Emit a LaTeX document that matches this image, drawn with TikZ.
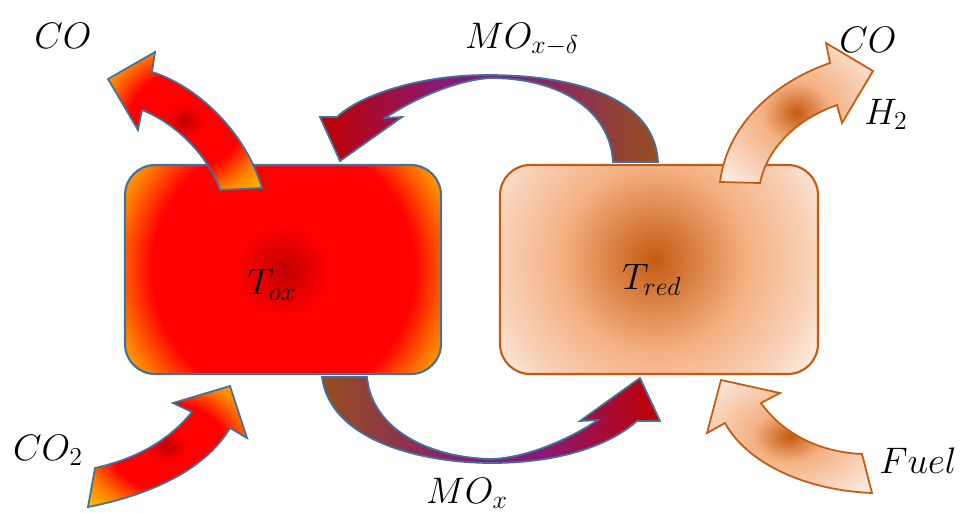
\documentclass[tikz,border=0pt]{standalone}
\usepackage{fix-cm}
\usepackage{tikz}
\usetikzlibrary{calc}
\definecolor{rd}{RGB}{192,0,0}
\definecolor{re}{RGB}{255,0,0}
\definecolor{og}{RGB}{255,128,0}
\definecolor{ye}{RGB}{255,192,0}
\definecolor{br}{RGB}{149,79,31}
\definecolor{pu}{RGB}{136,26,118}
\definecolor{bo}{RGB}{65,113,156}
\definecolor{ko}{RGB}{197,90,17}
\definecolor{pe}{RGB}{244,177,131}
\definecolor{pl}{RGB}{248,210,185}
\definecolor{wh}{RGB}{253,240,232}
\pgfdeclareradialshading{oxglow}{\pgfpoint{0bp}{0bp}}{color(0bp)=(rd); color(6bp)=(re); color(17bp)=(re); color(22bp)=(og); color(25bp)=(ye); color(50bp)=(ye)}
\pgfdeclareradialshading{oxarrow}{\pgfpoint{0bp}{0bp}}{color(0bp)=(rd); color(6bp)=(re); color(18bp)=(re); color(27bp)=(og); color(35bp)=(ye); color(50bp)=(ye)}
\pgfdeclareradialshading{redglow}{\pgfpoint{0bp}{0bp}}{color(0bp)=(ko); color(12bp)=(pe); color(20bp)=(pl); color(25bp)=(wh); color(50bp)=(wh)}
\pgfdeclareradialshading{redarrow}{\pgfpoint{0bp}{0bp}}{color(0bp)=(ko); color(11bp)=(pe); color(24bp)=(pl); color(35bp)=(wh); color(50bp)=(wh)}
\pgfdeclarehorizontalshading{loopleft}{100bp}{color(0bp)=(rd); color(25bp)=(rd); color(43bp)=(pu); color(53bp)=(pu); color(75bp)=(br); color(100bp)=(br)}
\pgfdeclarehorizontalshading{loopright}{100bp}{color(0bp)=(br); color(25bp)=(br); color(47bp)=(pu); color(57bp)=(pu); color(75bp)=(rd); color(100bp)=(rd)}
\tikzset{
  lbl/.style={font=\fontsize{21}{25}\selectfont,anchor=base},
  reactor/.style={line width=1.2pt,rounded corners=0.6cm,minimum height=4.18cm}
}

\begin{document}
\begin{tikzpicture}[x=0.02cm,y=-0.02cm]
  \useasboundingbox (0,0) rectangle (965,512);

  % the two reactors
  \node[reactor,draw=bo,minimum width=6.32cm,
    path picture={\shade[shading=oxglow] (path picture bounding box.center) circle (3.85cm);}] (ox) at (283,269.5) {};
  \node[reactor,draw=ko,minimum width=6.36cm,
    path picture={\shade[shading=redglow] ([xshift=-0.1cm,yshift=0.2cm]path picture bounding box.center) circle (3.9cm);}] (red) at (659,269.5) {};
  \node[lbl] (toxlbl) at ($(ox.center)+(-11,25)$) {$T_{ox}$};
  \node[lbl] (tredlbl) at ($(red.center)+(-7,20)$) {$T_{red}$};

  % oxide loop
  \shadedraw[shading=loopleft,draw=bo,line width=1pt]
    (658,162) .. controls (655,100) and (580,75) .. (487,75)
    .. controls (420,75) and (360,95) .. (337,117) -- (320,117) -- (340,161) -- (402,117) -- (385,118)
    .. controls (420,95) and (460,80) .. (490,78)
    .. controls (560,78) and (610,110) .. (613,162) -- cycle;
  \shadedraw[shading=loopright,draw=bo,line width=1pt]
    (322,377) .. controls (330,440) and (420,463) .. (492,463)
    .. controls (560,463) and (610,445) .. (637,421) -- (660,421) -- (640,378) -- (580,421) -- (598,420)
    .. controls (560,445) and (520,458) .. (492,459)
    .. controls (430,458) and (372,430) .. (367,377) -- cycle;
  \node[lbl] (mod) at (522,48) {$MO_{x-\delta}$};
  \node[lbl] (mox) at (467,503) {$MO_x$};

  % oxidation side
  \shadedraw[shading=oxarrow,draw=bo,line width=1pt]
    (220,190) .. controls (210,160) and (180,125) .. (142,110) -- (138,130) -- (108,79) -- (155,52) -- (152,72)
    .. controls (195,85) and (245,130) .. (262,188) -- cycle;
  \shadedraw[shading=oxarrow,draw=bo,line width=1pt]
    (88,507) .. controls (150,495) and (205,470) .. (230,428) -- (247,438) -- (230,386) -- (173,403) -- (192,412)
    .. controls (165,445) and (130,460) .. (95,468) -- cycle;
  \node[lbl] (coleft) at (63,48) {$CO$};
  \node[lbl] (cotwo) at (48,460) {$CO_2$};

  % reduction side
  \shadedraw[shading=redarrow,draw=ko,line width=1pt]
    (720,182) .. controls (728,120) and (780,80) .. (830,63) -- (826,43) -- (873,71) -- (842,123) -- (837,105)
    .. controls (800,118) and (768,145) .. (760,183) -- cycle;
  \shadedraw[shading=redarrow,draw=ko,line width=1pt]
    (862,454) .. controls (815,452) and (780,430) .. (761,403) -- (780,393) -- (721,380) -- (707,433) -- (725,423)
    .. controls (745,460) and (800,490) .. (872,493) -- cycle;
  \node[lbl] (coright) at (868,52) {$CO$};
  \node[lbl] (htwo) at (886,124) {$H_2$};
  \node[lbl] (fuel) at (918,473) {$Fuel$};
\end{tikzpicture}
\end{document}
